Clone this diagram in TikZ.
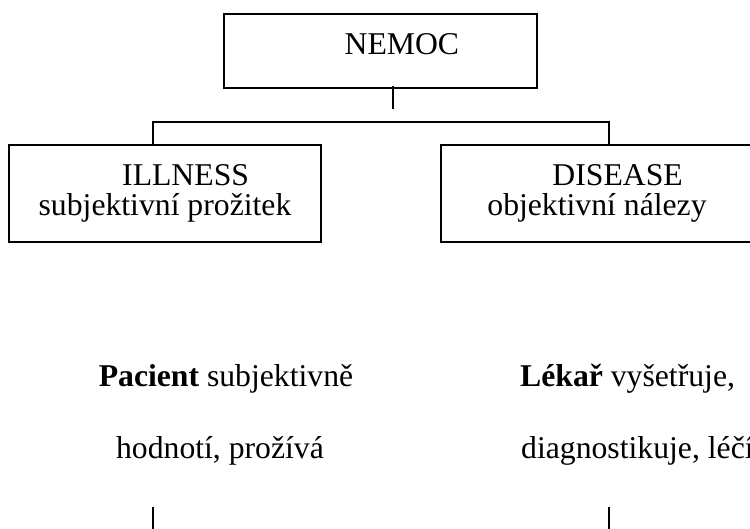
\documentclass[tikz,border=0pt]{standalone}
\usepackage{fontspec}
\setmainfont{Liberation Serif}
\usetikzlibrary{positioning, calc}

\begin{document}
\begin{tikzpicture}[
  x=1pt, y=-1pt,
  box/.style={draw, line width=1.6pt, rectangle, inner sep=0pt,
    align=center, font=\fontsize{31.7}{30}\selectfont},
  conn/.style={line width=1.6pt},
  txt/.style={inner sep=0pt, font=\fontsize{31.7}{38}\selectfont},
]

% --- Page frame ---
\useasboundingbox (0,0) rectangle (750,529);
\clip (0,0) rectangle (750,529);

% --- Boxes ---
\node[box, minimum width=313pt, minimum height=74pt, text depth=13pt]
  (nemoc) at (380.5, 51) {\hspace*{1.35em}NEMOC};
\node[box, minimum width=312pt, minimum height=97pt]
  (illness) at (165, 193.5) {\hspace*{1.3em}ILLNESS\\subjektivní prožitek};
\node[box, minimum width=312pt, minimum height=97pt]
  (disease) at (597, 193.5) {\hspace*{1.3em}DISEASE\\objektivní nálezy};

% --- Tree connectors ---
\coordinate (barL) at (153, 122);
\coordinate (barR) at (609, 122);
\draw[conn] ([yshift=3pt]nemoc.south -| 393,0) -- ++(0, 23);
\draw[conn] (illness.north -| barL) -- (barL) -- (barR)
  -- (disease.north -| barR);

% --- Descriptions ---
\node[txt, anchor=base] (pacient) at (226, 387)
  {\textbf{Pacient} subjektivně};
\node[txt, anchor=base] (hodnoti) at (220, 458)
  {hodnotí, prožívá};
\node[txt, anchor=base west] (lekar) at (520, 387)
  {\textbf{Lékař} vyšetřuje,};
\node[txt, anchor=base west] (diag) at (521, 458)
  {diagnostikuje, léčí};

% --- Lower stems ---
\coordinate (stemL) at (153, 507);
\coordinate (stemR) at (609, 507);
\draw[conn] (stemL) -- ++(0, 25);
\draw[conn] (stemR) -- ++(0, 25);

\end{tikzpicture}
\end{document}
